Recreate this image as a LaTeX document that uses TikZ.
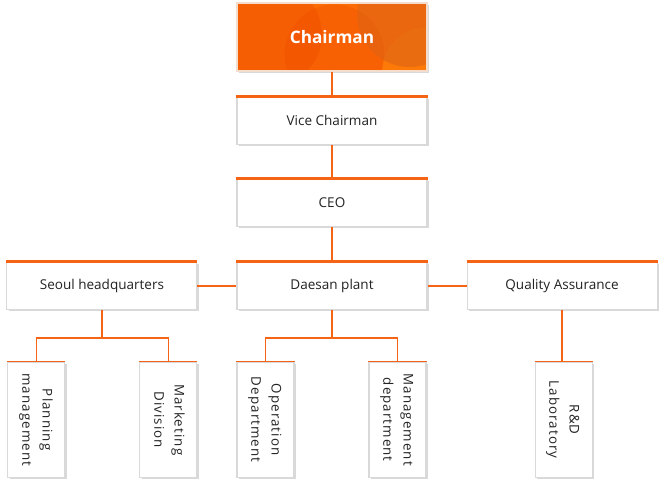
\documentclass[tikz,border=0pt]{standalone}
\usepackage{fontspec}
\setmainfont{Open Sans}
\newfontfamily\deptfont[LetterSpace=8]{Open Sans}
\usepackage{graphicx}
\usetikzlibrary{positioning,shadows}
\definecolor{orgline}{RGB}{245,100,20}
\definecolor{orgfill}{RGB}{252,108,6}
\definecolor{orgdark}{RGB}{240,78,0}
\definecolor{orgbrown}{RGB}{222,100,22}
\definecolor{orglight}{RGB}{255,130,10}
\definecolor{boxtext}{RGB}{35,35,35}
\newcommand\turned[1]{\rotatebox{-90}{\begin{tabular}{@{}c@{}}#1\end{tabular}}}

\begin{document}
\begin{tikzpicture}[line width=0.6pt,
  shadowed/.style={drop shadow={shadow xshift=1.2pt,shadow yshift=-1.2pt,opacity=0.15,fill=black}},
  top node/.style={rectangle,draw=orgfill!80!black!20,fill=orgfill,minimum width=3.8cm,
                   minimum height=1.36cm,text=white,font=\fontsize{9.8}{12}\selectfont\bfseries,shadowed,
                   path picture={
                     \fill[orgdark,opacity=0.45] ([xshift=-1.25cm,yshift=0.05cm]path picture bounding box.center) circle (1.05cm);
                     \fill[orgdark,opacity=0.35] ([xshift=0.05cm,yshift=-0.35cm]path picture bounding box.center) circle (1.0cm);
                     \fill[orglight,opacity=0.6] ([xshift=1.9cm,yshift=-0.7cm]path picture bounding box.center) circle (0.9cm);
                     \fill[orgbrown,opacity=0.6] ([xshift=1.55cm,yshift=0.45cm]path picture bounding box.center) circle (1.05cm);
                   }},
  unit node/.style={rectangle,draw=black!15,fill=white,minimum width=3.8cm,minimum height=0.94cm,
                    text=boxtext,font=\fontsize{7.7}{9}\selectfont,shadowed},
  dept node/.style={rectangle,draw=black!15,fill=white,minimum width=1.14cm,minimum height=2.3cm,
                    text=boxtext,font=\deptfont\fontsize{7.6}{11.5}\selectfont,shadowed},
  link/.style={draw=orgline,line width=1pt},
  top line/.style={draw=orgline,line width=1.5pt},
  thin top/.style={draw=orgline,line width=0.9pt}]

  \useasboundingbox (0,0) rectangle (13.22,-9.76);

  \node[top node] (chair) at (6.64,-0.74) {Chairman};
  \node[unit node] (vice)  [below=0.5cm of chair] {Vice Chairman};
  \node[unit node] (ceo)   [below=0.68cm of vice] {CEO};
  \node[unit node] (plant) [below=0.7cm of ceo]   {Daesan plant};
  \node[unit node] (seoul) [left=0.78cm of plant] {Seoul headquarters};
  \node[unit node] (qa)    [right=0.78cm of plant] {Quality Assurance};

  \node[dept node] (plan) [below=1.04cm of seoul.south, xshift=-1.31cm] {\turned{Planning\\management}};
  \node[dept node] (mkt)  [below=1.04cm of seoul.south, xshift=1.33cm]  {\turned{Marketing\\Division}};
  \node[dept node] (oper) [below=1.04cm of plant.south, xshift=-1.33cm] {\turned{Operation\\Department}};
  \node[dept node] (mgmt) [below=1.04cm of plant.south, xshift=1.31cm]  {\turned{Management\\department}};
  \node[dept node] (lab)  [below=1.04cm of qa.south, xshift=0.03cm]     {\turned{R\&D\\Laboratory}};

  % orange top edges
  \draw[top line] (vice.north west) -- (vice.north east);
  \draw[top line] (ceo.north west) -- (ceo.north east);
  \draw[top line] (plant.north west) -- (plant.north east);
  \draw[top line] (seoul.north west) -- (seoul.north east);
  \draw[top line] (qa.north west) -- (qa.north east);
  \draw[thin top] (plan.north west) -- (plan.north east);
  \draw[thin top] (mkt.north west) -- (mkt.north east);
  \draw[thin top] (oper.north west) -- (oper.north east);
  \draw[thin top] (mgmt.north west) -- (mgmt.north east);
  \draw[thin top] (lab.north west) -- (lab.north east);

  % main line
  \draw[link] (chair) -- (vice);
  \draw[link] (vice) -- (ceo);
  \draw[link] (ceo) -- (plant);
  \draw[link] (seoul) -- (plant);
  \draw[link] (plant) -- (qa);

  % units to departments
  \draw[link] (seoul.south) -- ++(0,-0.56) -| (plan.north);
  \draw[link] (seoul.south) -- ++(0,-0.56) -| (mkt.north);
  \draw[link] (plant.south) -- ++(0,-0.56) -| (oper.north);
  \draw[link] (plant.south) -- ++(0,-0.56) -| (mgmt.north);
  \draw[link] (qa.south) -- (lab.north -| qa.south);

\end{tikzpicture}
\end{document}
